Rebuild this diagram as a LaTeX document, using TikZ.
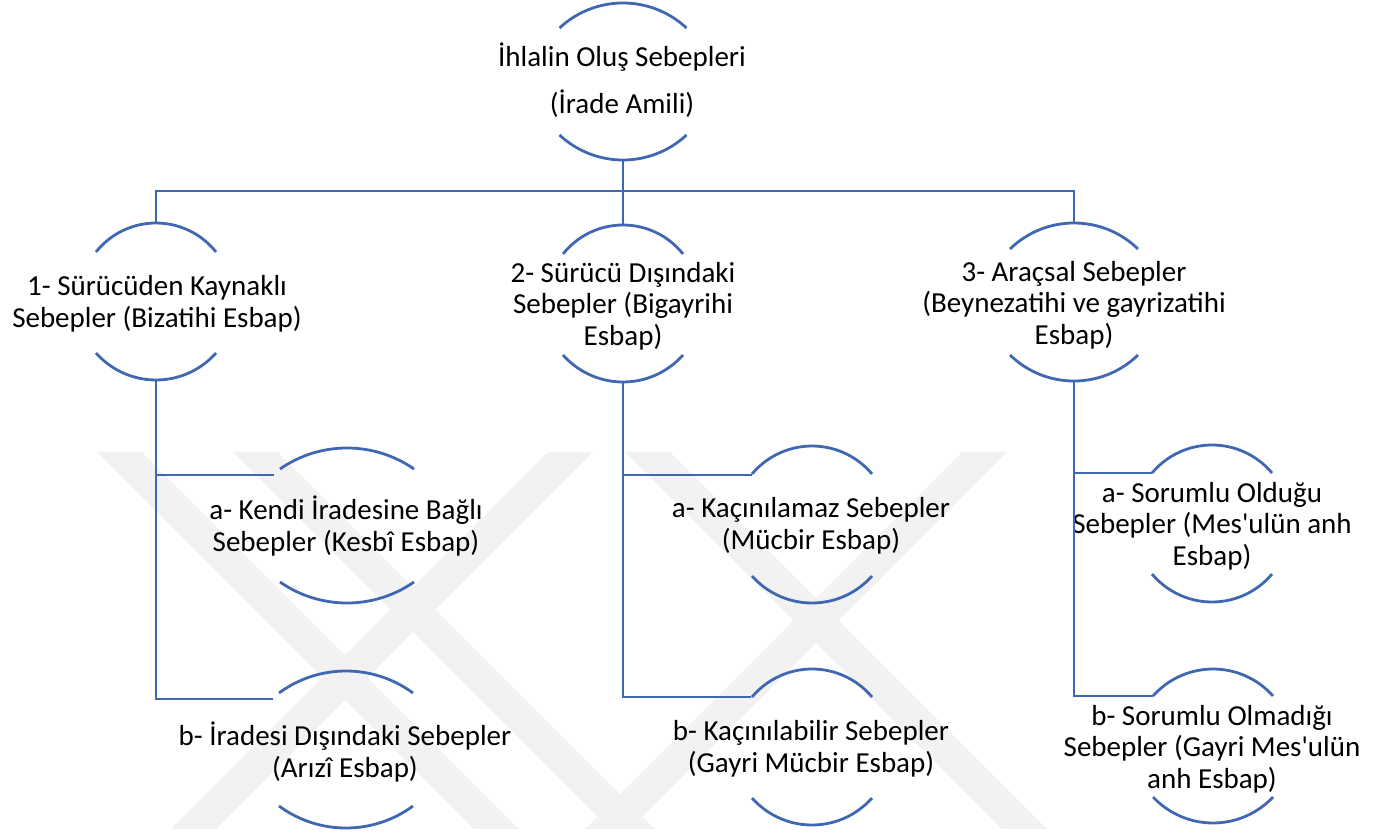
\documentclass[tikz,border=0pt]{standalone}
\usepackage{fontspec}
\setmainfont{Carlito}[Ligatures=TeXOff]
\definecolor{arcblue}{RGB}{64,104,178}
\definecolor{wmgray}{RGB}{242,242,242}
\tikzset{
  arcline/.style={draw=arcblue, line width=2.8pt},
  conn/.style={draw=arcblue, line width=2.8pt},
  txt/.style={font=\fontsize{29}{31.5}\selectfont, align=center, inner sep=0pt, text=black},
  wm/.style={fill=wmgray, draw=none}
}
\newcommand\hnode[7]{%
  \pgfmathsetmacro\hnsT{#4-#5}%
  \pgfmathsetmacro\hnrT{(#3*#3+\hnsT*\hnsT)/(2*\hnsT)}%
  \pgfmathsetmacro\hnaT{asin(#3/\hnrT)}%
  \pgfmathsetmacro\hnsB{#7-#6}%
  \pgfmathsetmacro\hnrB{(#3*#3+\hnsB*\hnsB)/(2*\hnsB)}%
  \pgfmathsetmacro\hnaB{asin(#3/\hnrB)}%
  \draw[arcline] ({#2-#3},#4) arc[start angle={90+\hnaT}, end angle={90-\hnaT}, radius=\hnrT pt];
  \draw[arcline] ({#2-#3},#6) arc[start angle={270-\hnaB}, end angle={270+\hnaB}, radius=\hnrB pt];
  \coordinate (#1-t) at (#2,#5);
  \coordinate (#1-b) at (#2,#7);
}
\newcommand\bandR[1]{\fill[wm] (#1,452) -- ({#1+45},452) -- ({#1+428},835) -- ({#1+383},835) -- cycle;}
\newcommand\bandL[1]{\fill[wm] (#1,452) -- ({#1+45},452) -- ({#1-338},835) -- ({#1-383},835) -- cycle;}
\begin{document}
\begin{tikzpicture}[x=1pt,y=-1pt]
\useasboundingbox (0,0) rectangle (1384,835);
% watermark
\begin{scope}
  \clip (0,452) rectangle (1384,828);
  \bandR{97}
  \bandR{233}
  \bandR{625}
  \bandL{548}
  \bandL{962}
\end{scope}
% arcs of the nodes
\hnode{T}{623}{63.5}{28}{3}{135}{160}
\hnode{n1}{156}{60}{252}{223}{353}{380}
\hnode{n2}{623}{60}{254}{225}{355}{382}
\hnode{n3}{1074}{64}{249}{223}{355}{381}
\hnode{a1}{347}{67}{469}{448}{582}{603}
\hnode{a2}{812}{60}{474}{446}{576}{603}
\hnode{a3}{1212}{60}{473}{445}{574}{602}
\hnode{b1}{346}{67}{693}{671}{806}{828}
\hnode{b2}{812}{60}{697}{669}{798}{825}
\hnode{b3}{1213}{60}{696}{669}{797}{823}
% texts
\node[txt] (T) at (622,80) {İhlalin Oluş Sebepleri\\[15pt](İrade Amili)};
\node[txt] (n1) at (157,304) {1- Sürücüden Kaynaklı\\Sebepler (Bizatihi Esbap)};
\node[txt] (n2) at (623,306) {2- Sürücü Dışındaki\\Sebepler (Bigayrihi\\Esbap)};
\node[txt] (n3) at (1074,305) {3- Araçsal Sebepler\\(Beynezatihi ve gayrizatihi\\Esbap)};
\node[txt] (a1) at (346,526) {a- Kendi İradesine Bağlı\\Sebepler (Kesbî Esbap)};
\node[txt] (a2) at (811,526) {a- Kaçınılamaz Sebepler\\(Mücbir Esbap)};
\node[txt] (a3) at (1212,526) {a- Sorumlu Olduğu\\Sebepler (Mes'ulün anh\\Esbap)};
\node[txt] (b1) at (345,752) {b- İradesi Dışındaki Sebepler\\(Arızî Esbap)};
\node[txt] (b2) at (811,749) {b- Kaçınılabilir Sebepler\\(Gayri Mücbir Esbap)};
\node[txt] (b3) at (1212,749) {b- Sorumlu Olmadığı\\Sebepler (Gayri Mes'ulün\\anh Esbap)};
% connectors
\coordinate (bar) at (623,191);
\coordinate (a1-in) at (274,475);
\coordinate (b1-in) at (273,699);
\coordinate (a2-in) at (752,475);
\coordinate (b2-in) at (751,697);
\coordinate (a3-in) at (1152,473);
\coordinate (b3-in) at (1153,696);
\draw[conn] (T-b) -- (n2-t);
\draw[conn] (n1-t) -- (n1-t |- bar) -- (n3-t |- bar) -- (n3-t);
\draw[conn] (n1-b) |- (a1-in);
\draw[conn] (n1-b) |- (b1-in);
\draw[conn] (n2-b) |- (a2-in);
\draw[conn] (n2-b) |- (b2-in);
\draw[conn] (n3-b) |- (a3-in);
\draw[conn] (n3-b) |- (b3-in);
\end{tikzpicture}
\end{document}
